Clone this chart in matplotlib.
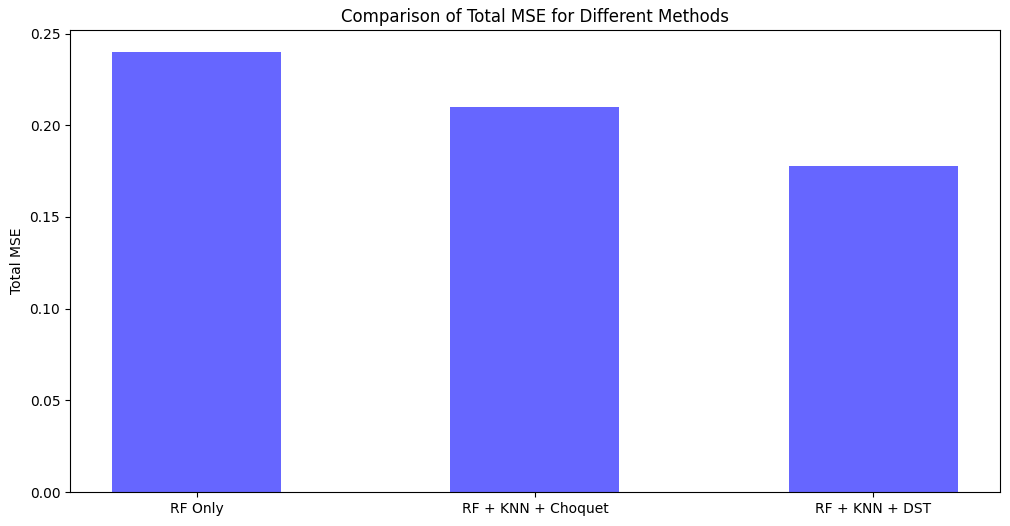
import matplotlib
matplotlib.use('Agg')
import matplotlib.pyplot as plt

methods = ['RF Only', 'RF + KNN + Choquet', 'RF + KNN + DST']
total_mse = [0.240, 0.210, 0.178]

fig, ax = plt.subplots(figsize=(10.1, 5.26), dpi=100)
fig.subplots_adjust(left=0.0693, right=0.990, top=0.943, bottom=0.0646)

ax.bar(methods, total_mse, color='blue', alpha=0.6, width=0.5)
ax.set_ylabel('Total MSE')
ax.set_title('Comparison of Total MSE for Different Methods')

fig.savefig('out.png', dpi=100)
